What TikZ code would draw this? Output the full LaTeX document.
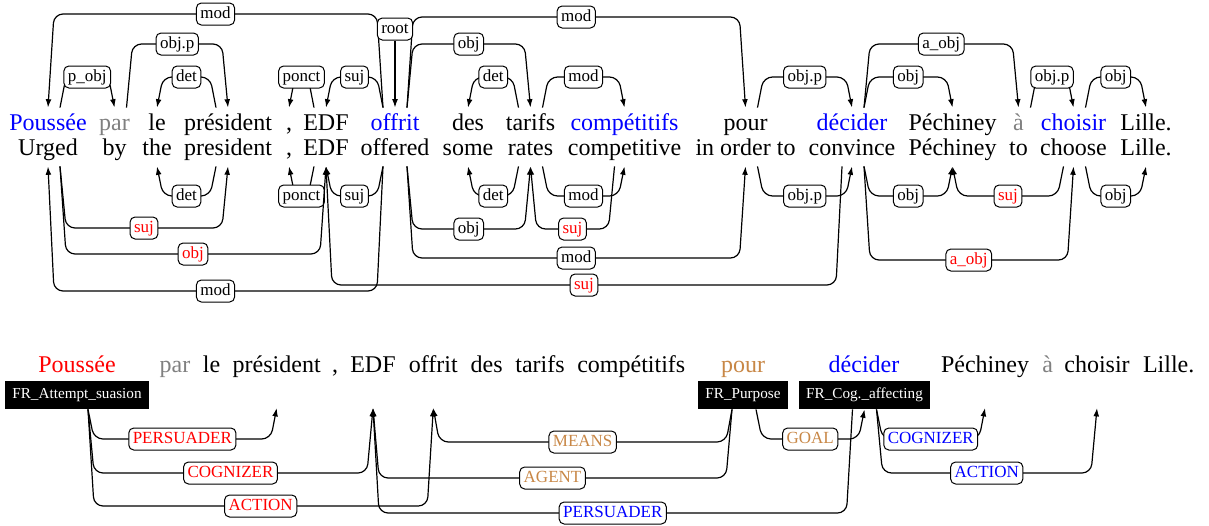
\documentclass[tikz,border=0pt]{standalone}
\usepackage{fontspec}
\setmainfont{Liberation Serif}
\usetikzlibrary{arrows.meta,calc}
\definecolor{fnorange}{RGB}{200,135,70}
\definecolor{wgray}{RGB}{128,128,128}
\tikzset{
  depline/.style={line width=0.6pt, rounded corners=4.5pt, -{Latex[length=4.2pt,width=2.9pt]}},
  lab/.style={draw, fill=white, rounded corners=2.5pt, line width=0.5pt, inner xsep=2pt, inner ysep=0pt,
    text height=6.1pt, text depth=2.1pt, minimum height=11pt, font=\fontsize{8.5}{10}\selectfont},
  fr/.style={inner sep=0pt, anchor=base, text height=11pt, font=\fontsize{12}{14}\selectfont},
  en/.style={inner sep=0pt, anchor=base, text depth=5.5pt, font=\fontsize{12}{14}\selectfont},
  sw/.style={inner sep=0pt, anchor=base, font=\fontsize{12}{14}\selectfont},
  framebox/.style={fill=black, text=white, inner xsep=3.5pt, inner ysep=0pt, minimum height=14pt,
    text height=5.6pt, text depth=1.7pt, font=\fontsize{7.6}{9}\selectfont},
}
% #1 label name, #2 source point, #3 target point, #4 level (px), #5 label, #6 label colour
\newcommand{\depedge}[6]{%
  \draw[depline] let \p1=#2, \p2=#3, \n1={ifthenelse(\x2>\x1,1,-1)} in
    (\p1) -- ({\x1+(\n1)*3pt},{-#4*0.5pt}) -- node[lab,text=#6] (#1) {#5} ({\x2-(\n1)*3pt},{-#4*0.5pt}) -- (\p2);%
}
\begin{document}
\begin{tikzpicture}[x=0.5pt,y=-0.5pt]
\useasboundingbox (0,0) rectangle (1209,525);

% ---------- French row ----------
\node[fr,text=blue]  (f1)  at (48,130)    {Poussée};
\node[fr,text=wgray] (f2)  at (114.5,130) {par};
\node[fr]            (f3)  at (157,130)   {le};
\node[fr]            (f4)  at (228,130)   {président};
\node[fr]            (f5)  at (289,130)   {,};
\node[fr]            (f6)  at (326,130)   {EDF};
\node[fr,text=blue]  (f7)  at (395,130)   {offrit};
\node[fr]            (f8)  at (468,130)   {des};
\node[fr]            (f9)  at (530.5,130) {tarifs};
\node[fr,text=blue]  (f10) at (624.5,130) {compétitifs};
\node[fr]            (f11) at (745.5,130) {pour};
\node[fr,text=blue]  (f12) at (852,130)   {décider};
\node[fr]            (f13) at (952.5,130) {Péchiney};
\node[fr,text=wgray] (f14) at (1018.5,130){à};
\node[fr,text=blue]  (f15) at (1073.5,130){choisir};
\node[fr]            (f16) at (1146,130)  {Lille.};

% ---------- English row ----------
\node[en] (e1)  at (48,155)    {Urged};
\node[en] (e2)  at (114.5,155) {by};
\node[en] (e3)  at (157,155)   {the};
\node[en] (e4)  at (228,155)   {president};
\node[en] (e5)  at (289,155)   {,};
\node[en] (e6)  at (326,155)   {EDF};
\node[en] (e7)  at (395,155)   {offered};
\node[en] (e8)  at (468,155)   {some};
\node[en] (e9)  at (530.5,155) {rates};
\node[en] (e10) at (624.5,155) {competitive};
\node[en] (e11) at (745.5,155) {in order to};
\node[en] (e12) at (852,155)   {convince};
\node[en] (e13) at (952.5,155) {Péchiney};
\node[en] (e14) at (1018.5,155){to};
\node[en] (e15) at (1073.5,155){choose};
\node[en] (e16) at (1146,155)  {Lille.};

% ---------- dependencies above ----------
\depedge{l1}{([xshift=-6pt]f7.north)}{(f1.north)}{14}{mod}{black}
\depedge{l2}{([xshift=6pt]f1.north)}{(f2.north)}{77}{p\_obj}{black}
\depedge{l3}{([xshift=6pt]f2.north)}{(f4.north)}{44}{obj.p}{black}
\depedge{l4}{([xshift=-6pt]f4.north)}{(f3.north)}{77}{det}{black}
\depedge{l5}{([xshift=-6pt]f6.north)}{(f5.north)}{77}{ponct}{black}
\depedge{l6}{([xshift=-6pt]f7.north)}{(f6.north)}{77}{suj}{black}
\depedge{l7}{([xshift=6pt]f7.north)}{(f9.north)}{44}{obj}{black}
\depedge{l8}{([xshift=6pt]f7.north)}{(f11.north)}{17}{mod}{black}
\depedge{l9}{([xshift=-6pt]f9.north)}{(f8.north)}{77}{det}{black}
\depedge{l10}{([xshift=6pt]f9.north)}{(f10.north)}{77}{mod}{black}
\depedge{l11}{([xshift=6pt]f11.north)}{(f12.north)}{77}{obj.p}{black}
\depedge{l12}{([xshift=6pt]f12.north)}{(f14.north)}{44}{a\_obj}{black}
\depedge{l13}{([xshift=6pt]f12.north)}{(f13.north)}{77}{obj}{black}
\depedge{l14}{([xshift=6pt]f14.north)}{(f15.north)}{77}{obj.p}{black}
\depedge{l15}{([xshift=6pt]f15.north)}{(f16.north)}{77}{obj}{black}
\node[lab] (root) at (395,29) {root};
\draw[depline] (root.south) -- (root.south |- f7.north);

% ---------- dependencies below ----------
\depedge{m1}{([xshift=-6pt]e4.south)}{(e3.south)}{196}{det}{black}
\depedge{m2}{([xshift=-6pt]e6.south)}{(e5.south)}{196}{ponct}{black}
\depedge{m3}{([xshift=-6pt]e7.south)}{(e6.south)}{196}{suj}{black}
\depedge{m4}{([xshift=6pt]e1.south)}{(e4.south)}{228}{suj}{red}
\depedge{m5}{([xshift=6pt]e1.south)}{(e6.south)}{254}{obj}{red}
\depedge{m6}{([xshift=-6pt]e7.south)}{(e1.south)}{291}{mod}{black}
\depedge{m7}{([xshift=-5pt]e12.south)}{(e6.south)}{285}{suj}{red}
\depedge{m8}{([xshift=6pt]e7.south)}{(e9.south)}{229}{obj}{black}
\depedge{m9}{([xshift=6pt]e7.south)}{(e11.south)}{258}{mod}{black}
\depedge{m10}{([xshift=-6pt]e9.south)}{(e8.south)}{196}{det}{black}
\depedge{m11}{([xshift=6pt]e9.south)}{(e10.south)}{196}{mod}{black}
\depedge{m12}{([xshift=-5pt]e10.south)}{(e9.south)}{229}{suj}{red}
\depedge{m13}{([xshift=6pt]e11.south)}{(e12.south)}{196}{obj.p}{black}
\depedge{m14}{([xshift=6pt]e12.south)}{(e13.south)}{196}{obj}{black}
\depedge{m15}{([xshift=-5pt]e15.south)}{(e13.south)}{196}{suj}{red}
\depedge{m16}{([xshift=6pt]e12.south)}{(e15.south)}{260}{a\_obj}{red}
\depedge{m17}{([xshift=6pt]e15.south)}{(e16.south)}{196}{obj}{black}

% ---------- frame-semantic sentence ----------
\node[sw,text=red]      (s1)  at (77,372)    {Poussée};
\node[sw,text=wgray]    (s2)  at (175,372)   {par};
\node[sw]               (s3)  at (211.5,372) {le};
\node[sw]               (s4)  at (276.7,372) {président};
\node[sw]               (s5)  at (335,372)   {,};
\node[sw]               (s6)  at (373,372)   {EDF};
\node[sw]               (s7)  at (433.3,372) {offrit};
\node[sw]               (s8)  at (486.7,372) {des};
\node[sw]               (s9)  at (540,372)   {tarifs};
\node[sw]               (s10) at (631.3,372) {compétitifs};
\node[sw,text=fnorange] (s11) at (743.2,372) {pour};
\node[sw,text=blue]     (s12) at (864,372)   {décider};
\node[sw]               (s13) at (985,372)   {Péchiney};
\node[sw,text=wgray]    (s14) at (1047.7,372){à};
\node[sw]               (s15) at (1097,372)  {choisir};
\node[sw]               (s16) at (1168.7,372){Lille.};

\node[framebox] (FA) at (77,395)    {FR\_Attempt\_suasion};
\node[framebox] (FP) at (743,395)   {FR\_Purpose};
\node[framebox] (FC) at (864.5,395) {FR\_Cog.\_affecting};

\depedge{r1}{([xshift=5.5pt]FA.south)}{([yshift=-18pt]s4.base)}{439}{PERSUADER}{red}
\depedge{r2}{([xshift=5.5pt]FA.south)}{([yshift=-18pt]s6.base)}{473}{COGNIZER}{red}
\depedge{r3}{([xshift=5.5pt]FA.south)}{([yshift=-18pt]s7.base)}{506}{ACTION}{red}
\depedge{r4}{([xshift=-5.5pt]FP.south)}{([yshift=-18pt]s7.base)}{442}{MEANS}{fnorange}
\depedge{r5}{([xshift=-5.5pt]FP.south)}{([yshift=-18pt]s6.base)}{478}{AGENT}{fnorange}
\depedge{r6}{([xshift=-6pt]FC.south)}{([yshift=-18pt]s6.base)}{513}{PERSUADER}{blue}
\depedge{r7}{([xshift=6.5pt]FP.south)}{(FC.south)}{439}{GOAL}{fnorange}
\depedge{r8}{([xshift=6pt]FC.south)}{([yshift=-18pt]s13.base)}{439}{COGNIZER}{blue}
\depedge{r9}{([xshift=6pt]FC.south)}{([yshift=-18pt]s15.base)}{473}{ACTION}{blue}
\end{tikzpicture}
\end{document}
